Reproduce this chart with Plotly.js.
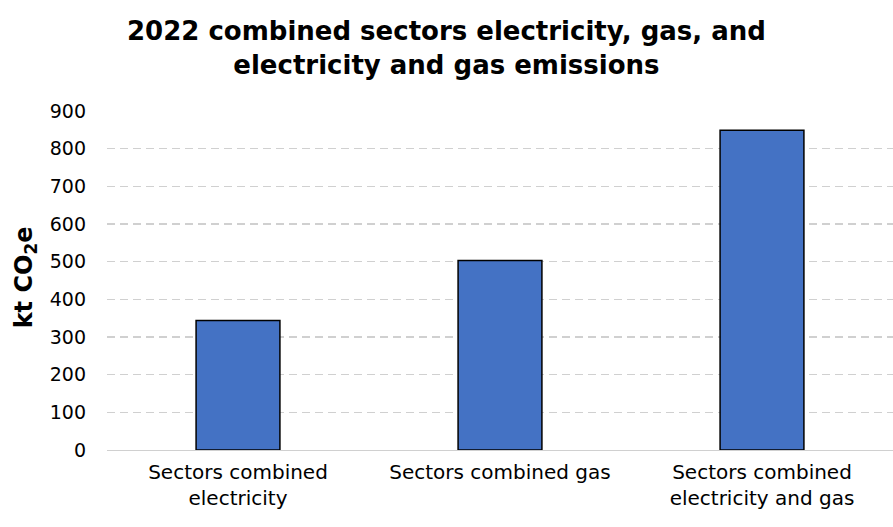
<!DOCTYPE html>
<html><head><meta charset="utf-8">
<script src="https://cdn.plot.ly/plotly-3.0.1.min.js"></script>
<style>body{margin:0;background:#fff}</style>
</head><body>
<div id="chart" style="width:893px;height:527px"></div>
<script>
const categories = ["Sectors combined<br>electricity", "Sectors combined gas", "Sectors combined<br>electricity and gas"];
const emissions = [344, 503, 849];
const yTicks = [0, 100, 200, 300, 400, 500, 600, 700, 800, 900];
const chartTitle = '<b>2022 combined sectors electricity, gas, and<br>electricity and gas emissions</b>';
const yTitle = '<b>kt CO<sub>2</sub>e</b>';

const fontFam = "'DejaVu Sans', sans-serif";
Plotly.newPlot('chart', [{
  type: 'bar',
  x: categories,
  y: emissions,
  marker: {color: '#4472C4', line: {color: '#000000', width: 1.5}},
  hoverinfo: 'none'
}], {
  width: 893, height: 527,
  margin: {l: 107, r: 0, t: 111, b: 77},
  paper_bgcolor: '#fff', plot_bgcolor: '#fff',
  bargap: 0.68,
  xaxis: {
    showgrid: false, showline: true, linecolor: '#d0d0d0', linewidth: 1.3,
    tickfont: {family: fontFam, size: 20, color: '#000'}, ticks: '', ticklabelstandoff: 4, fixedrange: true
  },
  yaxis: {
    range: [0, 900], tickvals: yTicks, ticktext: yTicks.map(String),
    showgrid: true, gridcolor: '#d0d0d0', griddash: '8px,5px', gridwidth: 1.3,
    zeroline: false, showline: false, ticks: '',
    tickfont: {family: fontFam, size: 19, color: '#000'}, ticklabelstandoff: 20,
    fixedrange: true
  },
  annotations: [
    {text: chartTitle, xref: 'paper', yref: 'paper', x: 0.432, y: 1.185, xanchor: 'center', yanchor: 'middle',
     showarrow: false, font: {family: fontFam, size: 26, color: '#000'}},
    {text: yTitle, xref: 'paper', yref: 'paper', x: -0.104, y: 0.51, xanchor: 'center', yanchor: 'middle',
     textangle: -90, showarrow: false, font: {family: fontFam, size: 24, color: '#000'}}
  ],
  showlegend: false
}, {displayModeBar: false, staticPlot: true});
</script>
</body></html>
